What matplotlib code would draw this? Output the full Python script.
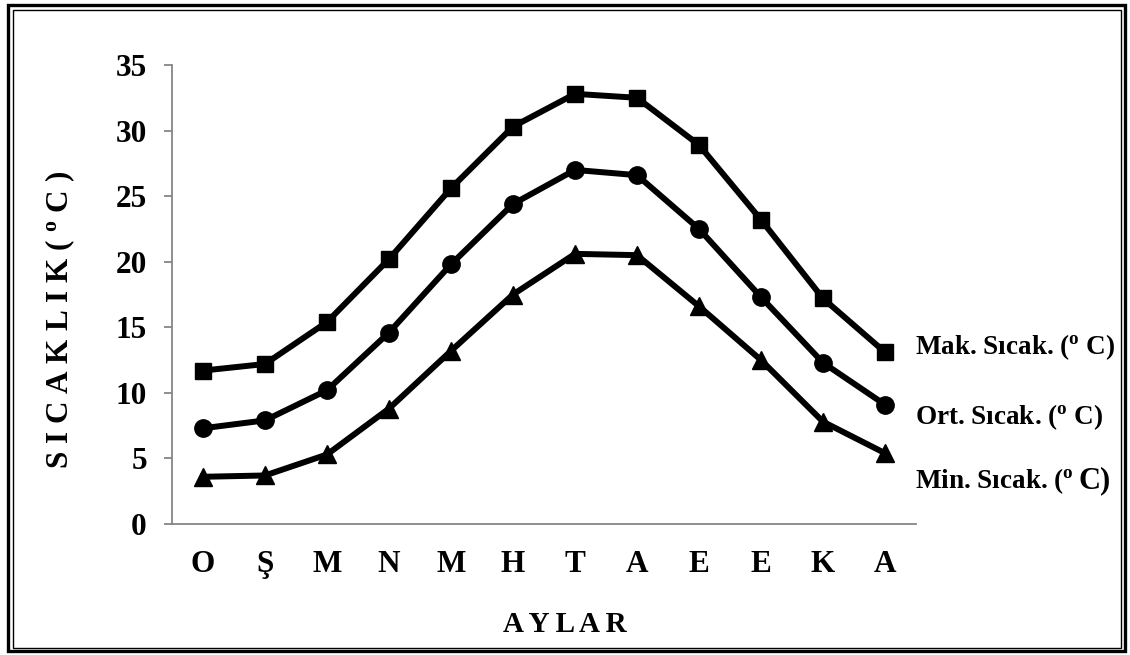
import matplotlib.pyplot as plt
from matplotlib.patches import Rectangle

# ── Data ─────────────────────────────────────────────────────────────────────
months = ["O", "Ş", "M", "N", "M", "H", "T", "A", "E", "E", "K", "A"]
mak_sicak = [11.7, 12.2, 15.4, 20.2, 25.6, 30.3, 32.8, 32.5, 28.9, 23.2, 17.2, 13.1]
ort_sicak = [7.3, 7.9, 10.2, 14.6, 19.8, 24.4, 27.0, 26.6, 22.5, 17.3, 12.3, 9.1]
min_sicak = [3.6, 3.7, 5.3, 8.8, 13.2, 17.5, 20.6, 20.5, 16.6, 12.5, 7.8, 5.4]
series_labels = ["Mak. Sıcak. ($^\\mathrm{o}$ C)",
                 "Ort. Sıcak. ($^\\mathrm{o}$ C)",
                 "Min. Sıcak. ($^\\mathrm{o}$"]
y_ticks = [0, 5, 10, 15, 20, 25, 30, 35]

plt.rcParams["font.family"] = "Liberation Serif"
plt.rcParams["font.weight"] = "bold"
plt.rcParams["mathtext.fontset"] = "custom"
plt.rcParams["mathtext.rm"] = "Liberation Serif:bold"
plt.rcParams["mathtext.it"] = "Liberation Serif:bold"
plt.rcParams["mathtext.bf"] = "Liberation Serif:bold"

W, H = 1130, 655
fig = plt.figure(figsize=(W / 100, H / 100), dpi=100)
ax = fig.add_axes([172 / W, 1 - 524 / H, 744 / W, 459 / H])

x = list(range(len(months)))
line_kw = dict(color="black", linewidth=4.3, solid_joinstyle="miter")
ax.plot(x, mak_sicak, marker="s", markersize=11.5, **line_kw)
ax.plot(x, ort_sicak, marker="o", markersize=12.5, **line_kw)
ax.plot(x, min_sicak, marker="^", markersize=13.5, **line_kw)

ax.set_xlim(-0.5, len(months) - 0.5)
ax.set_ylim(0, 35)
ax.set_yticks(y_ticks)
ax.set_xticks(x)
ax.set_xticklabels(months)

gray = "#868686"
ax.spines[["top", "right"]].set_visible(False)
ax.spines[["left", "bottom"]].set_color(gray)
ax.spines[["left", "bottom"]].set_linewidth(1.3)
ax.tick_params(axis="y", length=6, width=1.3, color=gray, pad=12, labelsize=22.5)
ax.tick_params(axis="x", length=0, pad=19, labelsize=22.5)

# series labels at the right end of each line
label_tops = [347, 417, 481]
texts = []
for py, lab in zip(label_tops, series_labels):
    t = fig.text(915 / W, 1 - py / H, lab, fontsize=19.5, fontweight="bold",
                 va="center", ha="left")
    texts.append(t)

# the last label ends in a larger "C)"
renderer = fig.canvas.get_renderer()
bb = texts[2].get_window_extent(renderer)
fig.text((bb.x1 + 5) / W, 1 - label_tops[2] / H, "C)", fontsize=22, fontweight="bold",
         va="center", ha="left")

fig.text(565 / W, 1 - 625 / H, "A Y L A R", fontsize=21, fontweight="bold",
         ha="center", va="center")
fig.text(60 / W, 1 - 320 / H, "S I C A K L I K ( $^\\mathrm{o}$ C )", fontsize=22.5,
         fontweight="bold", rotation=90, ha="center", va="center")

# double frame round the chart
fig.patches.append(Rectangle((8 / W, 1 - 651 / H), 1117 / W, 646 / H,
                             transform=fig.transFigure, fill=False,
                             edgecolor="black", linewidth=2.4))
fig.patches.append(Rectangle((13 / W, 1 - 648 / H), 1108 / W, 638 / H,
                             transform=fig.transFigure, fill=False,
                             edgecolor="black", linewidth=1.0))

fig.savefig("out.png", dpi=100)
